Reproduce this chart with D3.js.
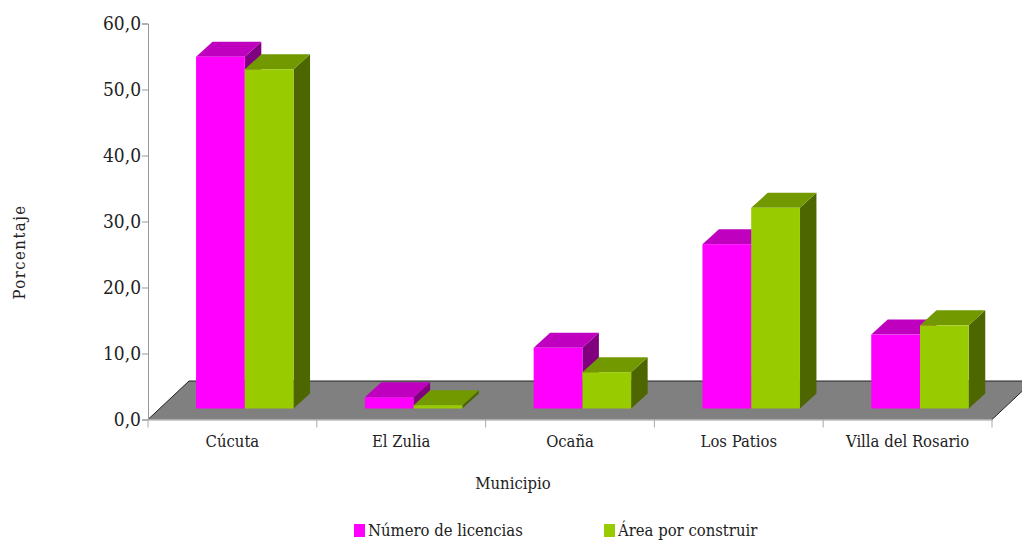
<!DOCTYPE html>
<html>
<head>
<meta charset="utf-8">
<script src="https://cdn.jsdelivr.net/npm/d3@7"></script>
<style>
body { margin: 0; background: #fff; }
text { font-family: "DejaVu Serif Condensed", "DejaVu Serif", serif; font-stretch: condensed; fill: #222; }
</style>
</head>
<body>
<div id="chart"></div>
<script>
var municipios = ["Cúcuta", "El Zulia", "Ocaña", "Los Patios", "Villa del Rosario"];
var licencias = [53.3, 1.7, 9.2, 24.9, 11.2];
var area = [51.4, 0.5, 5.5, 30.4, 12.6];
var yTicks = [0, 10, 20, 30, 40, 50, 60];
var seriesNames = ["Número de licencias", "Área por construir"];

var w = 1022, h = 540;
var depthX = 16.5, depthY = 15;   // 3d offset of the bars
var floorX = 41, floorY = 38.5;   // 3d offset of the floor
var base = 11;                    // bars stand this far behind the front of the floor

var colors = [
	{ front: "#FF00FF", top: "#BF00BF", side: "#800080" },
	{ front: "#99CC00", top: "#739900", side: "#4D6600" }
];

var svg = d3.select("#chart").append("svg")
	.attr("width", w)
	.attr("height", h)
	.style("display", "block");

var xScale = d3.scaleBand().domain(municipios).range([148, 992]);
var yScale = d3.scaleLinear().domain([0, 60]).range([419.5, 23.5]);
var barScale = d3.scaleBand().domain([0, 1]).range([0, 97.5]);
var barLeft = (xScale.bandwidth() - 97.5) / 2 + 12.4;

// floor
svg.append("path")
	.attr("d", d3.line()([
		[148, yScale(0)],
		[148 + floorX, yScale(0) - floorY],
		[992 + floorX, yScale(0) - floorY],
		[992, yScale(0)]
	]) + "Z")
	.attr("fill", "#808080");
svg.append("path")
	.attr("d", d3.line()([
		[148, yScale(0)],
		[148 + floorX, yScale(0) - floorY],
		[992 + floorX, yScale(0) - floorY],
		[992, yScale(0)]
	]))
	.attr("fill", "none")
	.attr("stroke", "#222")
	.attr("stroke-width", 1);

// axes
var yAxis = d3.axisLeft(yScale)
	.tickValues(yTicks)
	.tickSize(6)
	.tickPadding(1)
	.tickFormat(function(d) { return d3.format(".1f")(d).replace(".", ","); });
var yBar = svg.append("g").attr("transform", "translate(148,0)").call(yAxis);

var xAxis = d3.axisBottom(xScale).tickSize(0).tickPadding(16);
var xBar = svg.append("g").attr("transform", "translate(0," + yScale(0) + ")").call(xAxis);
xBar.append("g").selectAll("line")
	.data(municipios.concat(["end"]))
	.enter()
	.append("line")
	.attr("x1", function(d, i) { return 148 + i * xScale.bandwidth(); })
	.attr("x2", function(d, i) { return 148 + i * xScale.bandwidth(); })
	.attr("y1", 0)
	.attr("y2", 8)
	.attr("stroke", "#aaa");

svg.selectAll(".domain, .tick line").attr("stroke", "#999");
svg.selectAll(".tick text").style("font-size", "16.5px").attr("fill", "#222");
yBar.selectAll("text").style("font-size", "19px");

// bars
municipios.forEach(function(name, i) {
	[licencias[i], area[i]].forEach(function(value, s) {
		var c = colors[s];
		var x0 = xScale(name) + barLeft + barScale(s);
		var x1 = x0 + barScale.bandwidth();
		var y0 = yScale(0) - base;
		var y1 = yScale(value) - base;
		var g = svg.append("g");

		g.append("path")
			.attr("d", d3.line()([[x1, y1], [x1 + depthX, y1 - depthY], [x1 + depthX, y0 - depthY], [x1, y0]]) + "Z")
			.attr("fill", c.side);
		g.append("path")
			.attr("d", d3.line()([[x0, y1], [x0 + depthX, y1 - depthY], [x1 + depthX, y1 - depthY], [x1, y1]]) + "Z")
			.attr("fill", c.top);
		g.append("rect")
			.attr("x", x0)
			.attr("y", y1)
			.attr("width", x1 - x0)
			.attr("height", y0 - y1)
			.attr("fill", c.front);
	});
});

// titles
svg.append("text")
	.attr("x", 513)
	.attr("y", 489)
	.attr("text-anchor", "middle")
	.style("font-size", "16.5px")
	.text("Municipio");

svg.append("text")
	.attr("transform", "translate(25,252) rotate(-90)")
	.attr("text-anchor", "middle")
	.style("font-size", "16.5px")
	.style("letter-spacing", "1.5px")
	.text("Porcentaje");

// legend
var legend = svg.append("g");
legend.selectAll("rect")
	.data(seriesNames)
	.enter()
	.append("rect")
	.attr("x", function(d, i) { return 354 + i * 250; })
	.attr("y", 524)
	.attr("width", 11)
	.attr("height", 13)
	.attr("fill", function(d, i) { return colors[i].front; });
legend.selectAll("text")
	.data(seriesNames)
	.enter()
	.append("text")
	.attr("x", function(d, i) { return 368 + i * 250; })
	.attr("y", 536)
	.style("font-size", "16.5px")
	.text(function(d) { return d; });
</script>
</body>
</html>
